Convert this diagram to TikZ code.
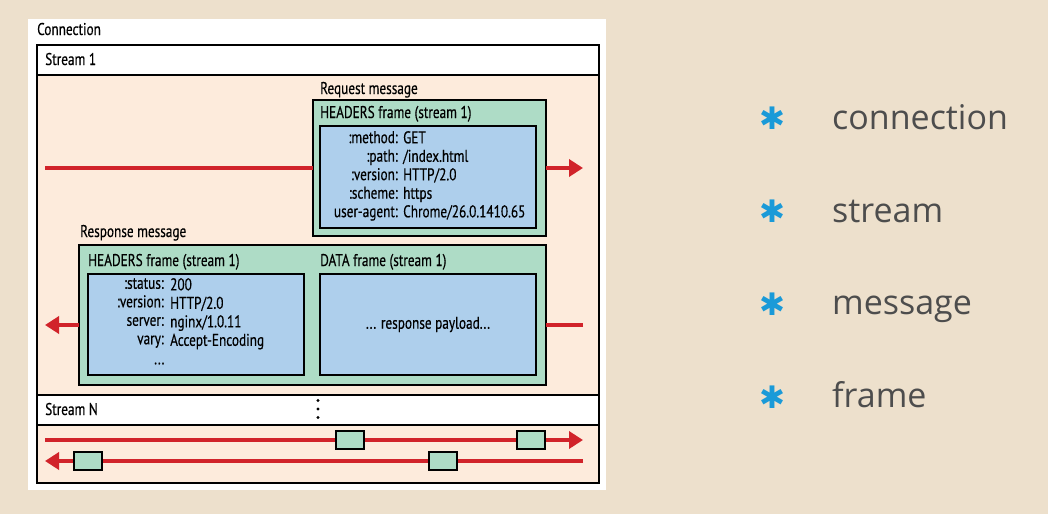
\documentclass[tikz,border=0pt]{standalone}
\usepackage{fontspec}
\setmainfont{PT Sans}
\newfontfamily\dfont[FakeStretch=0.78,FakeBold=0.4]{PT Sans}
\newfontfamily\rfont{Open Sans}
\newfontfamily\symfont{DejaVu Sans}
\usetikzlibrary{arrows.meta}
\definecolor{bgc}{HTML}{EDE0CC}
\definecolor{peach}{HTML}{FDEBDC}
\definecolor{fgreen}{HTML}{AEDCC6}
\definecolor{fblue}{HTML}{AECFEC}
\definecolor{ared}{HTML}{D1232A}
\definecolor{starblue}{HTML}{1A9AD8}
\definecolor{tgray}{HTML}{4D4D4D}
\begin{document}
\begin{tikzpicture}[x=1pt,y=-1pt,
  box/.style={draw=black,line width=2pt,anchor=north west,inner sep=0pt,outer sep=0pt},
  hdrbox/.style={box,fill=white},
  bodybox/.style={box,fill=peach},
  greenbox/.style={box,fill=fgreen},
  bluebox/.style={box,fill=fblue},
  small/.style={box,fill=fgreen,line width=1.6pt,anchor=center,minimum width=28pt,minimum height=18pt},
  lbl/.style={anchor=base west,inner sep=0pt,font=\dfont\fontsize{17}{18}\selectfont},
  kv/.style={anchor=north east,inner sep=0pt,align=right,font=\dfont\fontsize{17}{18.5}\selectfont},
  kvv/.style={anchor=north west,inner sep=0pt,align=left,font=\dfont\fontsize{17}{18.5}\selectfont},
  arr/.style={draw=ared,line width=3.8pt,-{Triangle[length=14pt,width=17pt]}},
  rline/.style={draw=ared,line width=3.8pt},
  star/.style={text=starblue,font=\symfont\fontsize{31}{31}\selectfont,inner sep=0pt},
  item/.style={text=tgray,anchor=base west,inner sep=0pt,font=\rfont\fontsize{34}{34}\selectfont}
]
\useasboundingbox (0,0) rectangle (1048,514);
\fill[bgc] (0,0) rectangle (1048,514);
\node[anchor=north west,fill=white,inner sep=0pt,minimum width=578pt,minimum height=471pt] (panel) at (28,19) {};
\node[lbl] (conn) at (37,35) {Connection};
% stream 1
\node[bodybox,minimum width=562pt,minimum height=320pt] (s1body) at (37,75) {};
\node[hdrbox,minimum width=562pt,minimum height=30pt] (s1hdr) at (37,45) {};
\node[lbl] (s1lbl) at (45,65) {Stream 1};
% stream N
\node[bodybox,minimum width=562pt,minimum height=58pt] (snbody) at (37,425) {};
\node[hdrbox,minimum width=562pt,minimum height=30pt] (snhdr) at (37,395) {};
\node[lbl] (snlbl) at (45,415) {Stream N};
\fill (318,400.5) circle (1.7pt) (318,409) circle (1.7pt) (318,417.5) circle (1.7pt);
% request
\node[lbl] (reqlbl) at (320,94) {Request message};
\node[greenbox,minimum width=233pt,minimum height=136pt] (reqf) at (313,100) {};
\node[lbl] (reqflbl) at (320,118) {HEADERS frame (stream 1)};
\node[bluebox,minimum width=216pt,minimum height=102pt] (reqb) at (320,126) {};
\node[kv] (reqk) at (398,131) {:method:\\:path:\\:version:\\:scheme:\\user-agent:};
\node[kvv] (reqv) at (403,131) {GET\\/index.html\\HTTP/2.0\\https\\Chrome/26.0.1410.65};
% response
\node[lbl] (resplbl) at (80,237) {Response message};
\node[greenbox,minimum width=467pt,minimum height=140pt] (respf) at (79,245) {};
\node[lbl] (resphlbl) at (88,266) {HEADERS frame (stream 1)};
\node[lbl] (respdlbl) at (320,266) {DATA frame (stream 1)};
\node[bluebox,minimum width=216pt,minimum height=101pt] (resph) at (88,274) {};
\node[bluebox,minimum width=216pt,minimum height=101pt] (respd) at (320,274) {};
\node[kv] (respk) at (164,278) {:status:\\:version:\\server:\\vary:};
\node[kvv] (respv) at (170,278) {200\\HTTP/2.0\\nginx/1.0.11\\Accept-Encoding\\\hspace*{-16pt}...};
\node[font=\dfont\fontsize{17}{18}\selectfont,inner sep=0pt] (payload) at (respd.center) {... response payload...};
% arrows stream 1
\coordinate (reqstart) at (45,168);
\coordinate (reqend) at (583,168);
\draw[rline] (reqstart) -- (reqf.west);
\draw[arr] (reqf.east) -- (reqend);
\coordinate (respstart) at (583,325);
\coordinate (respend) at (45,325);
\draw[rline] (respstart) -- (respf.east |- respstart);
\draw[arr] (respf.west |- respend) -- (respend);
% stream N arrows
\coordinate (nas) at (45,440);
\coordinate (nae) at (583,440);
\coordinate (nbs) at (583,461);
\coordinate (nbe) at (45,461);
\draw[arr] (nas) -- (nae);
\draw[arr] (nbs) -- (nbe);
\node[small] (f1) at (350,440) {};
\node[small] (f2) at (531,440) {};
\node[small] (f3) at (88,461) {};
\node[small] (f4) at (443,461) {};
% right list
\node[star] (st1) at (772,118) {✱};
\node[star] (st2) at (772,211) {✱};
\node[star] (st3) at (772,304) {✱};
\node[star] (st4) at (772,397) {✱};
\node[item] (it1) at (832,129) {connection};
\node[item] (it2) at (832,222) {stream};
\node[item] (it3) at (832,314) {message};
\node[item] (it4) at (832,407) {frame};
\end{tikzpicture}
\end{document}
